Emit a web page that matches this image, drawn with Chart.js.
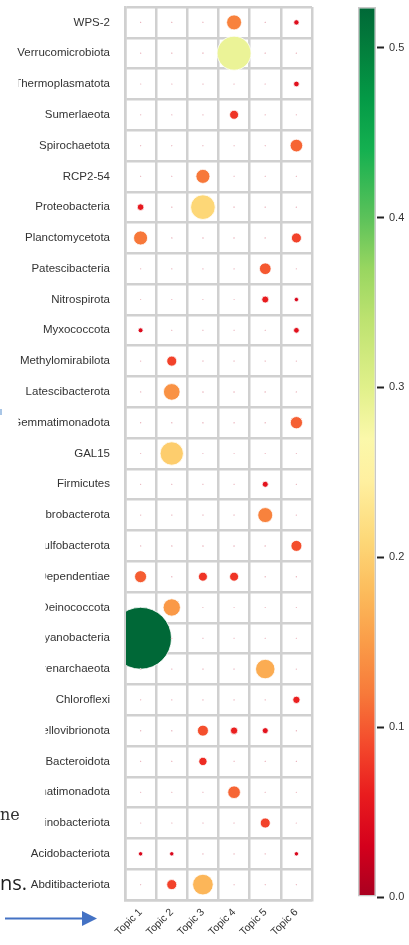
<!DOCTYPE html>
<html>
<head>
<meta charset="utf-8">
<script src="https://cdn.jsdelivr.net/npm/chart.js@4.4.1/dist/chart.umd.min.js"></script>
<style>
  html, body { margin: 0; padding: 0; background: #fff; }
  #wrap { position: relative; width: 409px; height: 945px; overflow: hidden; }
  #main { position: absolute; left: 0; top: 0; }
  #bar { position: absolute; left: 340px; top: 0; }
</style>
</head>
<body>
<div id="wrap">
  <canvas id="main" width="409" height="945"></canvas>
  <canvas id="bar" width="69" height="945"></canvas>
</div>
<script>
// Topic columns and phylum rows (top to bottom)
const topics = ['Topic 1', 'Topic 2', 'Topic 3', 'Topic 4', 'Topic 5', 'Topic 6'];
const taxa = [
  'WPS-2', 'Verrucomicrobiota', 'Thermoplasmatota', 'Sumerlaeota', 'Spirochaetota',
  'RCP2-54', 'Proteobacteria', 'Planctomycetota', 'Patescibacteria', 'Nitrospirota',
  'Myxococcota', 'Methylomirabilota', 'Latescibacterota', 'Gemmatimonadota', 'GAL15',
  'Firmicutes', 'Fibrobacterota', 'Desulfobacterota', 'Dependentiae', 'Deinococcota',
  'Cyanobacteria', 'Crenarchaeota', 'Chloroflexi', 'Bdellovibrionota', 'Bacteroidota',
  'Armatimonadota', 'Actinobacteriota', 'Acidobacteriota', 'Abditibacteriota'
];

// Phylum weight per topic, one entry per row of `taxa`
const topic1 = [0.01, 0.01, 0.01, 0.01, 0.01, 0.01, 0.056, 0.119, 0.01, 0.01,
                0.042, 0.01, 0.01, 0.01, 0.01, 0.01, 0.01, 0.01, 0.102, 0.01,
                0.524, 0.01, 0.01, 0.01, 0.01, 0.01, 0.01, 0.037, 0.01];
const topic2 = [0.01, 0.01, 0.01, 0.01, 0.01, 0.01, 0.01, 0.01, 0.01, 0.01,
                0.01, 0.085, 0.141, 0.01, 0.198, 0.01, 0.01, 0.01, 0.01, 0.147,
                0.01, 0.01, 0.01, 0.01, 0.01, 0.01, 0.01, 0.037, 0.085];
const topic3 = [0.01, 0.01, 0.01, 0.01, 0.01, 0.119, 0.209, 0.01, 0.01, 0.01,
                0.01, 0.01, 0.01, 0.01, 0.01, 0.01, 0.01, 0.01, 0.076, 0.01,
                0.01, 0.01, 0.01, 0.093, 0.070, 0.01, 0.01, 0.01, 0.175];
const topic4 = [0.127, 0.288, 0.01, 0.076, 0.01, 0.01, 0.01, 0.01, 0.01, 0.01,
                0.01, 0.01, 0.01, 0.01, 0.01, 0.01, 0.01, 0.01, 0.076, 0.01,
                0.01, 0.01, 0.01, 0.062, 0.01, 0.107, 0.01, 0.01, 0.01];
const topic5 = [0.01, 0.01, 0.01, 0.01, 0.01, 0.01, 0.01, 0.01, 0.099, 0.059,
                0.01, 0.01, 0.01, 0.01, 0.01, 0.051, 0.127, 0.01, 0.01, 0.01,
                0.01, 0.165, 0.01, 0.051, 0.01, 0.01, 0.085, 0.01, 0.01];
const topic6 = [0.045, 0.01, 0.048, 0.01, 0.107, 0.01, 0.01, 0.085, 0.01, 0.037,
                0.048, 0.01, 0.01, 0.104, 0.01, 0.01, 0.01, 0.093, 0.01, 0.01,
                0.01, 0.01, 0.062, 0.01, 0.01, 0.01, 0.01, 0.037, 0.01];

const colorbarTicks = [0.0, 0.1, 0.2, 0.3, 0.4, 0.5];

// ---- styling ----
const topicValues = [topic1, topic2, topic3, topic4, topic5, topic6];
const vmax = Math.max(...topicValues.flat());
const PX_PER_UNIT = 59;          // bubble radius in px per unit of weight
const GRID = '#d0d0d0';
const TEXT = '#333333';

// Red-yellow-green ramp, stops as fraction of the colour range
const ramp = [
  [0.000, [168, 0, 32]], [0.057, [212, 0, 28]], [0.115, [233, 28, 30]],
  [0.172, [244, 74, 44]], [0.229, [247, 122, 58]], [0.286, [250, 156, 72]],
  [0.344, [252, 188, 92]], [0.401, [253, 216, 120]], [0.468, [255, 240, 160]],
  [0.515, [251, 248, 170]], [0.573, [224, 240, 138]], [0.649, [189, 226, 112]],
  [0.706, [152, 214, 96]], [0.763, [92, 194, 90]], [0.840, [20, 176, 80]],
  [0.897, [4, 154, 70]], [0.954, [3, 126, 60]], [1.000, [0, 104, 55]]
];
function rampColor(t) {
  t = Math.max(0, Math.min(1, t));
  for (let k = 1; k < ramp.length; k++) {
    const [t1, c1] = ramp[k];
    const [t0, c0] = ramp[k - 1];
    if (t <= t1) {
      const f = (t - t0) / (t1 - t0);
      const c = c0.map((a, i) => Math.round(a + (c1[i] - a) * f));
      return `rgb(${c[0]},${c[1]},${c[2]})`;
    }
  }
  const c = ramp[ramp.length - 1][1];
  return `rgb(${c[0]},${c[1]},${c[2]})`;
}

Chart.defaults.font.family = "'Liberation Sans', Arial, Helvetica, sans-serif";
Chart.defaults.color = TEXT;

const points = [];
topics.forEach((topic, j) => {
  taxa.forEach((name, i) => {
    points.push({ x: topic, y: name, v: topicValues[j][i] });
  });
});

const noScalePadding = s => {
  s.paddingTop = 0; s.paddingBottom = 0; s.paddingLeft = 0; s.paddingRight = 0;
};

// Slide fragments around the figure: cover boxes, stray text, arrow
const slideOverlay = {
  id: 'slideOverlay',
  afterDraw(chart) {
    const c = chart.ctx;
    c.save();
    c.fillStyle = '#ffffff';
    c.fillRect(0, 70, 18.5, 370);
    c.fillRect(0, 500, 45.5, 340);
    c.fillStyle = '#a9c6e6';
    c.fillRect(0, 409, 2, 6);
    c.textAlign = 'left';
    c.textBaseline = 'alphabetic';
    c.fillStyle = '#333333';
    c.font = '16px "DejaVu Serif"';
    c.fillText('ne', 0, 820);
    c.fillStyle = '#1e1e1e';
    c.font = '20px "Open Sans"';
    c.fillText('ns.', 0, 890);
    c.strokeStyle = '#4472c4';
    c.lineWidth = 2;
    c.beginPath();
    c.moveTo(5, 918.5);
    c.lineTo(84, 918.5);
    c.stroke();
    c.fillStyle = '#4472c4';
    c.beginPath();
    c.moveTo(82, 911);
    c.lineTo(97, 918.5);
    c.lineTo(82, 926);
    c.closePath();
    c.fill();
    c.restore();
  }
};

new Chart(document.getElementById('main'), {
  type: 'bubble',
  data: {
    datasets: [{
      data: points,
      radius: ctx => (ctx.raw ? ctx.raw.v * PX_PER_UNIT : 0),
      hoverRadius: 0,
      backgroundColor: ctx => (ctx.raw ? rampColor(ctx.raw.v / vmax) : '#000'),
      borderColor: '#ffffff',
      borderWidth: 0.8,
      clip: -1
    }]
  },
  plugins: [slideOverlay],
  options: {
    responsive: false,
    animation: false,
    events: [],
    layout: { autoPadding: false, padding: { top: 7, right: 97, left: 0, bottom: 0 } },
    plugins: { legend: { display: false }, tooltip: { enabled: false } },
    scales: {
      x: {
        type: 'category',
        labels: topics,
        offset: true,
        grid: { offset: true, color: GRID, lineWidth: 2.5, drawTicks: false },
        border: { color: GRID, width: 2.5 },
        ticks: {
          autoSkip: false, minRotation: 45, maxRotation: 45, padding: 6,
          color: TEXT, font: { size: 10.5 }
        },
        afterFit: s => { s.height = 45; noScalePadding(s); }
      },
      y: {
        type: 'category',
        labels: taxa,
        offset: true,
        grid: { offset: true, color: GRID, lineWidth: 2.5, drawTicks: false },
        border: { color: GRID, width: 2.5 },
        ticks: { autoSkip: false, padding: 15, color: TEXT, font: { size: 11.5 } },
        afterFit: s => { s.width = 125; noScalePadding(s); }
      }
    }
  }
});

// Colour bar drawn as a single gradient bar on its own value axis
new Chart(document.getElementById('bar'), {
  type: 'bar',
  data: {
    labels: [''],
    datasets: [{
      data: [vmax],
      backgroundColor: ctx => {
        const chart = ctx.chart;
        const ys = chart.scales.y;
        if (!chart.chartArea || !ys) return '#fff';
        const y0 = ys.getPixelForValue(0);
        const y1 = ys.getPixelForValue(vmax);
        const g = chart.ctx.createLinearGradient(0, y0, 0, y1);
        ramp.forEach(([t, c]) => g.addColorStop(t, `rgb(${c[0]},${c[1]},${c[2]})`));
        return g;
      },
      borderColor: '#c8c8c8',
      borderWidth: 1.5,
      borderSkipped: false,
      barPercentage: 0.9,
      categoryPercentage: 1
    }]
  },
  options: {
    responsive: false,
    animation: false,
    events: [],
    layout: { autoPadding: false, padding: { top: 7, bottom: 48, left: 17, right: 0 } },
    plugins: { legend: { display: false }, tooltip: { enabled: false } },
    scales: {
      x: { display: false },
      y: {
        position: 'right',
        min: 0,
        max: vmax,
        afterBuildTicks: s => { s.ticks = colorbarTicks.map(v => ({ value: v })); },
        grid: { drawOnChartArea: false, drawTicks: true, tickLength: 7, tickColor: '#222', tickWidth: 2 },
        border: { display: false },
        ticks: { padding: 5, color: TEXT, font: { size: 11 }, callback: v => v.toFixed(1) },
        afterFit: s => { s.width = 32; noScalePadding(s); }
      }
    }
  }
});
</script>
</body>
</html>
